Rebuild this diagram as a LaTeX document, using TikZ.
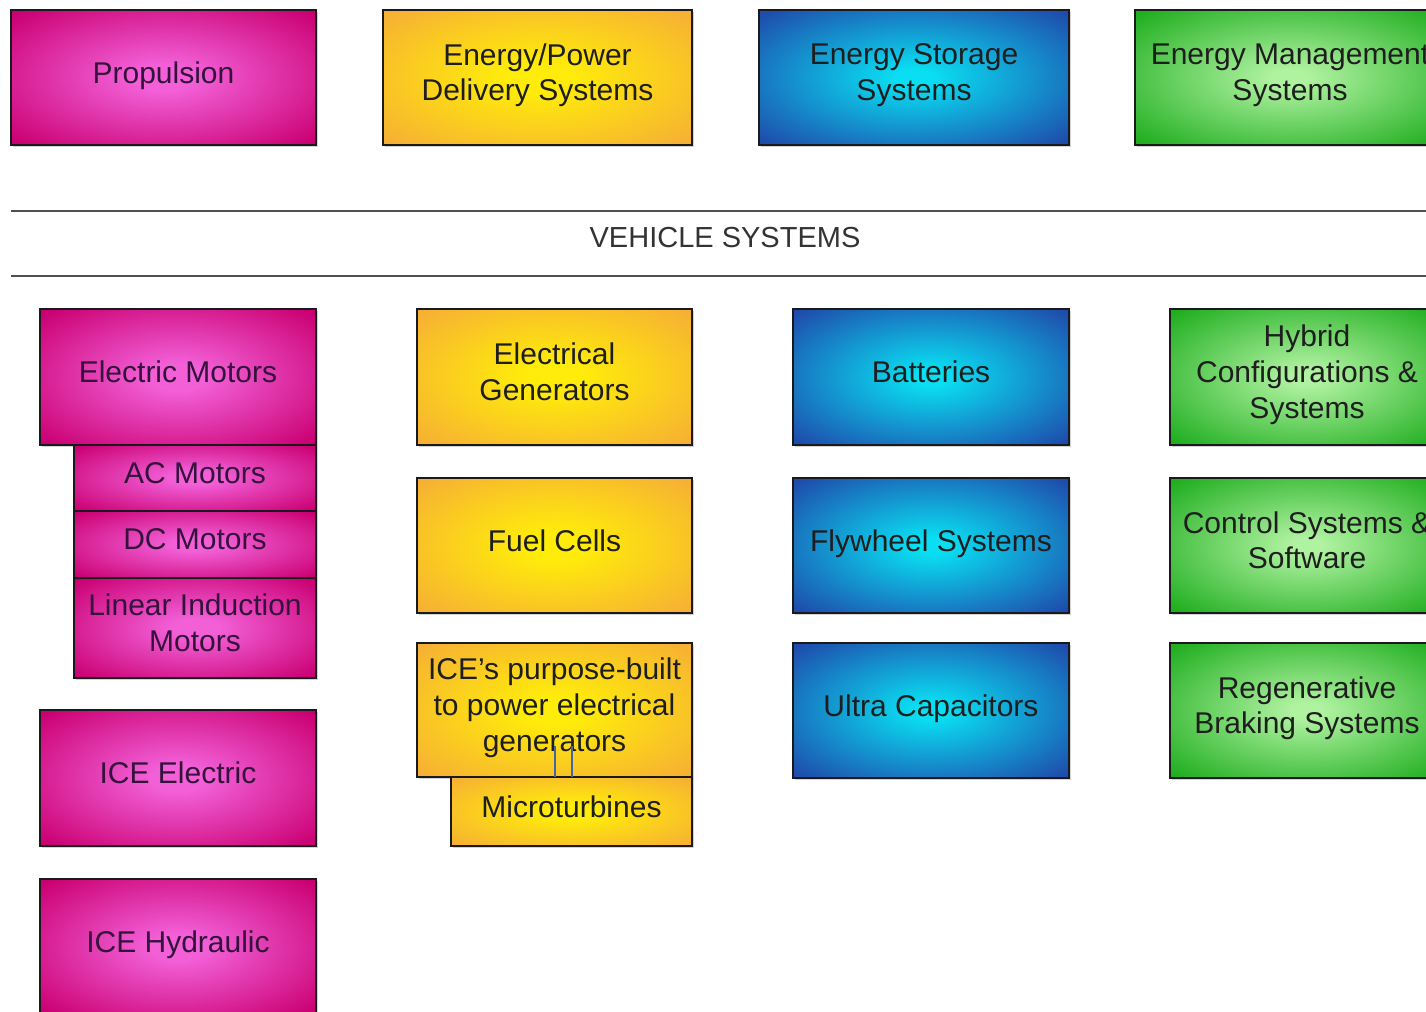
\documentclass[tikz,border=0pt]{standalone}
\usepackage{fontspec}
\setmainfont{Liberation Sans}
\usetikzlibrary{shadows}
\definecolor{pinkout}{RGB}{202,0,114}
\definecolor{pinkin}{RGB}{242,95,215}
\definecolor{orout}{RGB}{246,176,52}
\definecolor{orin}{RGB}{255,236,10}
\definecolor{blout}{RGB}{30,76,172}
\definecolor{blin}{RGB}{10,222,242}
\definecolor{grout}{RGB}{32,174,32}
\definecolor{grin}{RGB}{175,242,160}
\definecolor{boxline}{RGB}{26,26,30}
\definecolor{txt}{RGB}{30,30,30}
\definecolor{pinktxt}{RGB}{52,18,60}
\definecolor{rule}{RGB}{80,80,80}
\definecolor{artline}{RGB}{70,100,170}
\pgfdeclareradialshading{pinkglow}{\pgfpointorigin}{color(0bp)=(pinkin); color(5bp)=(pinkin); color(34bp)=(pinkout); color(50bp)=(pinkout)}
\pgfdeclareradialshading{orglow}{\pgfpointorigin}{color(0bp)=(orin); color(5bp)=(orin); color(34bp)=(orout); color(50bp)=(orout)}
\pgfdeclareradialshading{blglow}{\pgfpointorigin}{color(0bp)=(blin); color(3bp)=(blin); color(34bp)=(blout); color(50bp)=(blout)}
\pgfdeclareradialshading{grglow}{\pgfpointorigin}{color(0bp)=(grin); color(3bp)=(grin); color(34bp)=(grout); color(50bp)=(grout)}
\tikzset{
  box/.style={draw=boxline, line width=1.1pt, inner sep=0pt, align=center,
    font=\fontsize{15}{17.8}\selectfont, text=txt, text depth=5.3pt,
    drop shadow={shadow xshift=0.8pt, shadow yshift=-0.8pt, opacity=0.35}},
  pinkbox/.style={box, shading=pinkglow, text=pinktxt},
  orbox/.style={box, shading=orglow},
  blbox/.style={box, shading=blglow},
  grbox/.style={box, shading=grglow},
  bigbox/.style={minimum width=138pt, minimum height=68pt},
  subbox/.style={minimum width=121pt},
  rulestyle/.style={draw=rule, line width=1pt},
  caption/.style={font=\fontsize{14.5}{17}\selectfont, text=black!80}
}
\begin{document}
\begin{tikzpicture}[x=0.5pt,y=-0.5pt]
\useasboundingbox (0,0) rectangle (1426,1012);
\clip (0,0) rectangle (1426,1012);

% top row
\node[pinkbox, minimum width=152.5pt, minimum height=67.5pt] (prop) at (163.5,77.5) {Propulsion};
\node[orbox, minimum width=154.5pt, minimum height=67.5pt] (epd) at (537.5,77.5) {Energy/Power\\Delivery Systems};
\node[blbox, minimum width=155pt, minimum height=67.5pt] (ess) at (914,77.5) {Energy Storage\\Systems};
\node[grbox, minimum width=155pt, minimum height=67.5pt] (ems) at (1290,77.5) {Energy Management\\Systems};

% vehicle systems band
\coordinate (r1a) at (11,211);
\coordinate (r1b) at (1426,211);
\coordinate (r2a) at (11,276);
\coordinate (r2b) at (1426,276);
\draw[rulestyle] (r1a) -- (r1b);
\draw[rulestyle] (r2a) -- (r2b);
\node[caption] (vs) at (725,238) {VEHICLE SYSTEMS};

% column 1
\node[pinkbox, bigbox] (emot) at (178,377) {Electric Motors};
\node[pinkbox, subbox, minimum height=33pt] (ac) at (195,478) {AC Motors};
\node[pinkbox, subbox, minimum height=33.5pt] (dc) at (195,544.5) {DC Motors};
\node[pinkbox, subbox, minimum height=50pt] (lim) at (195,628) {Linear Induction\\Motors};
\node[pinkbox, bigbox] (icee) at (178,778) {ICE Electric};
\node[pinkbox, bigbox] (iceh) at (178,947) {ICE Hydraulic};

% column 2
\node[orbox, minimum width=137.5pt, minimum height=68pt] (eg) at (554.5,377) {Electrical\\Generators};
\node[orbox, minimum width=137.5pt, minimum height=67.5pt] (fc) at (554.5,545.5) {Fuel Cells};
\node[orbox, minimum width=137.5pt, minimum height=67pt] (icepb) at (554.5,710) {ICE's purpose-built\\to power electrical\\generators};
\node[orbox, minimum width=120.5pt, minimum height=34.5pt] (mt) at (571.5,811.5) {Microturbines};
\coordinate (l1a) at (555,746);
\coordinate (l1b) at (555,777);
\coordinate (l2a) at (572,746);
\coordinate (l2b) at (572,777);
\draw[artline, line width=0.9pt] (l1a) -- (l1b);
\draw[artline, line width=0.9pt] (l2a) -- (l2b);

% column 3
\node[blbox, bigbox] (bat) at (931,377) {Batteries};
\node[blbox, minimum width=138pt, minimum height=67.5pt] (fly) at (931,545.5) {Flywheel Systems};
\node[blbox, minimum width=138pt, minimum height=67.5pt] (uc) at (931,710.5) {Ultra Capacitors};

% column 4
\node[grbox, minimum width=137pt, minimum height=68pt] (hyb) at (1307,377) {Hybrid\\Configurations \&\\Systems};
\node[grbox, minimum width=137pt, minimum height=67.5pt] (ctl) at (1307,545.5) {Control Systems \&\\Software};
\node[grbox, minimum width=137pt, minimum height=67.5pt] (reg) at (1307,710.5) {Regenerative\\Braking Systems};
\end{tikzpicture}
\end{document}
